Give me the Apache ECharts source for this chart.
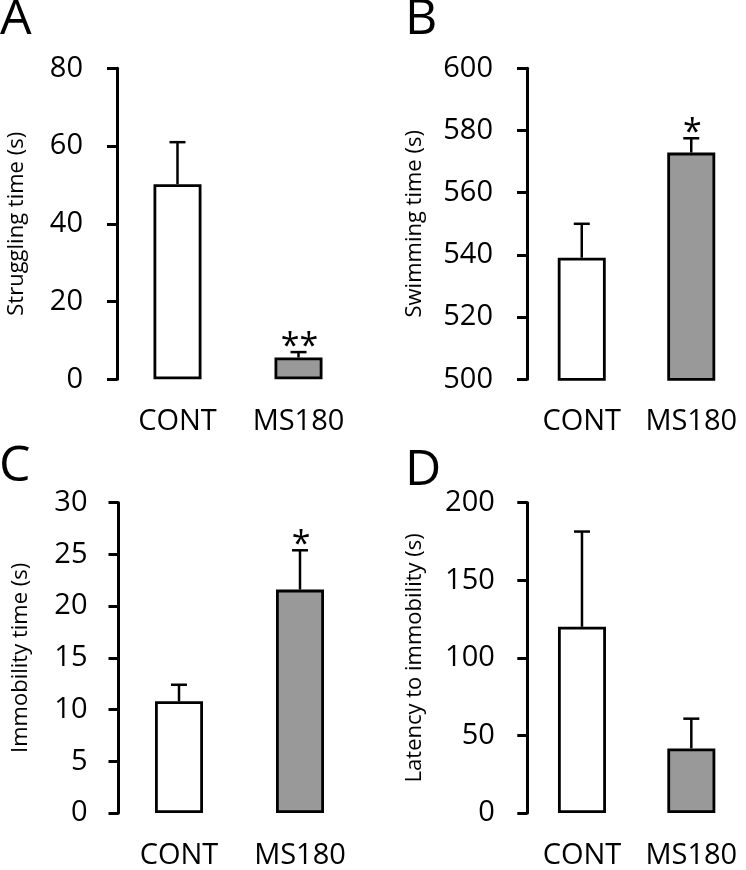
<!DOCTYPE html>
<html>
<head>
<meta charset="utf-8">
<script src="https://cdn.jsdelivr.net/npm/echarts@6/dist/echarts.min.js"></script>
<style>
html,body{margin:0;padding:0;background:#fff;}
#chart{width:746px;height:870px;}
</style>
</head>
<body>
<div id="chart"></div>
<script>
// ---- data ----
const categories = ['CONT', 'MS180'];
const barColors = ['#ffffff', '#999999'];

const strugglingMean = [50.2, 5.6];
const strugglingSem = [10.8, 1.4];
const strugglingSig = ['', '**'];

const swimmingMean = [539.1, 572.9];
const swimmingSem = [10.9, 4.6];
const swimmingSig = ['', '*'];

const immobilityMean = [10.8, 21.6];
const immobilitySem = [1.6, 3.8];
const immobilitySig = ['', '*'];

const latencyMean = [120, 41.6];
const latencySem = [61.4, 19.2];
const latencySig = ['', ''];

const panelLetters = ['A', 'B', 'C', 'D'];
const yTitles = ['Struggling time (s)', 'Swimming time (s)', 'Immobility time (s)', 'Latency to immobility (s)'];
const yMins = [0, 500, 0, 0];
const yMaxs = [80, 600, 30, 200];
const yIntervals = [20, 20, 5, 50];

// ---- layout ----
const FONT = 'Open Sans';
const panels = [
  {mean: strugglingMean, sem: strugglingSem, sig: strugglingSig, grid: {left: 117, top: 68.3, width: 242, height: 311}, gap: 89, labelMargin: 34},
  {mean: swimmingMean, sem: swimmingSem, sig: swimmingSig, grid: {left: 527, top: 68.3, width: 226, height: 311}, gap: 101, labelMargin: 34},
  {mean: immobilityMean, sem: immobilitySem, sig: immobilitySig, grid: {left: 118.5, top: 502.7, width: 242, height: 311.3}, gap: 87, labelMargin: 31},
  {mean: latencyMean, sem: latencySem, sig: latencySig, grid: {left: 527.3, top: 502.7, width: 226, height: 311.3}, gap: 102, labelMargin: 32.5}
];

const grid = [], xAxis = [], yAxis = [], series = [];
panels.forEach((p, i) => {
  grid.push(Object.assign({containLabel: false}, p.grid));
  xAxis.push({
    type: 'category', gridIndex: i, data: categories,
    axisLine: {show: false}, axisTick: {show: false},
    axisLabel: {color: '#000', fontFamily: FONT, fontSize: 29, margin: 28, interval: 0, hideOverlap: false}
  });
  yAxis.push({
    type: 'value', gridIndex: i, min: yMins[i], max: yMaxs[i], interval: yIntervals[i],
    name: yTitles[i], nameLocation: 'middle', nameGap: p.gap,
    nameTextStyle: {color: '#000', fontFamily: FONT, fontSize: 22},
    axisLine: {show: true, lineStyle: {color: '#000', width: 3}},
    axisTick: {show: true, inside: false, length: 10, lineStyle: {color: '#000', width: 3}},
    axisLabel: {color: '#000', fontFamily: FONT, fontSize: 29, margin: p.labelMargin},
    splitLine: {show: false}
  });
  series.push({
    type: 'bar', xAxisIndex: i, yAxisIndex: i, barWidth: 48,
    data: p.mean.map((v, k) => ({value: v, itemStyle: {color: barColors[k]}})),
    itemStyle: {borderColor: '#000', borderWidth: 2.8},
    z: 2, animation: false
  });
  series.push({
    type: 'custom', xAxisIndex: i, yAxisIndex: i, z: 3, animation: false,
    data: p.mean.map((v, k) => [k, v, v + p.sem[k]]),
    renderItem: function (params, api) {
      const k = api.value(0);
      const base = api.coord([k, api.value(1)]);
      const top = api.coord([k, api.value(2)]);
      const capHalf = 8;
      const children = [
        {type: 'line', shape: {x1: base[0], y1: base[1], x2: top[0], y2: top[1]}, style: {stroke: '#000', lineWidth: 2.5}},
        {type: 'line', shape: {x1: top[0] - capHalf, y1: top[1], x2: top[0] + capHalf, y2: top[1]}, style: {stroke: '#000', lineWidth: 2.5}}
      ];
      const s = p.sig[params.dataIndex];
      if (s) {
        children.push({type: 'text', style: {text: s, x: top[0] + 1, y: top[1] - 5, align: 'center', verticalAlign: 'middle', fontFamily: FONT, fontSize: 34, fill: '#000'}});
      }
      return {type: 'group', children: children};
    }
  });
});

const letterPos = [[0, -5], [405, -5], [-1, 442], [405, 446]];
const graphic = panelLetters.map((t, i) => ({
  type: 'text', left: letterPos[i][0], top: letterPos[i][1],
  style: {text: t, fontFamily: FONT, fontSize: 50, fill: '#000'}
}));

const chart = echarts.init(document.getElementById('chart'), null, {renderer: 'canvas'});
chart.setOption({animation: false, backgroundColor: '#fff', grid, xAxis, yAxis, series, graphic});
</script>
</body>
</html>
